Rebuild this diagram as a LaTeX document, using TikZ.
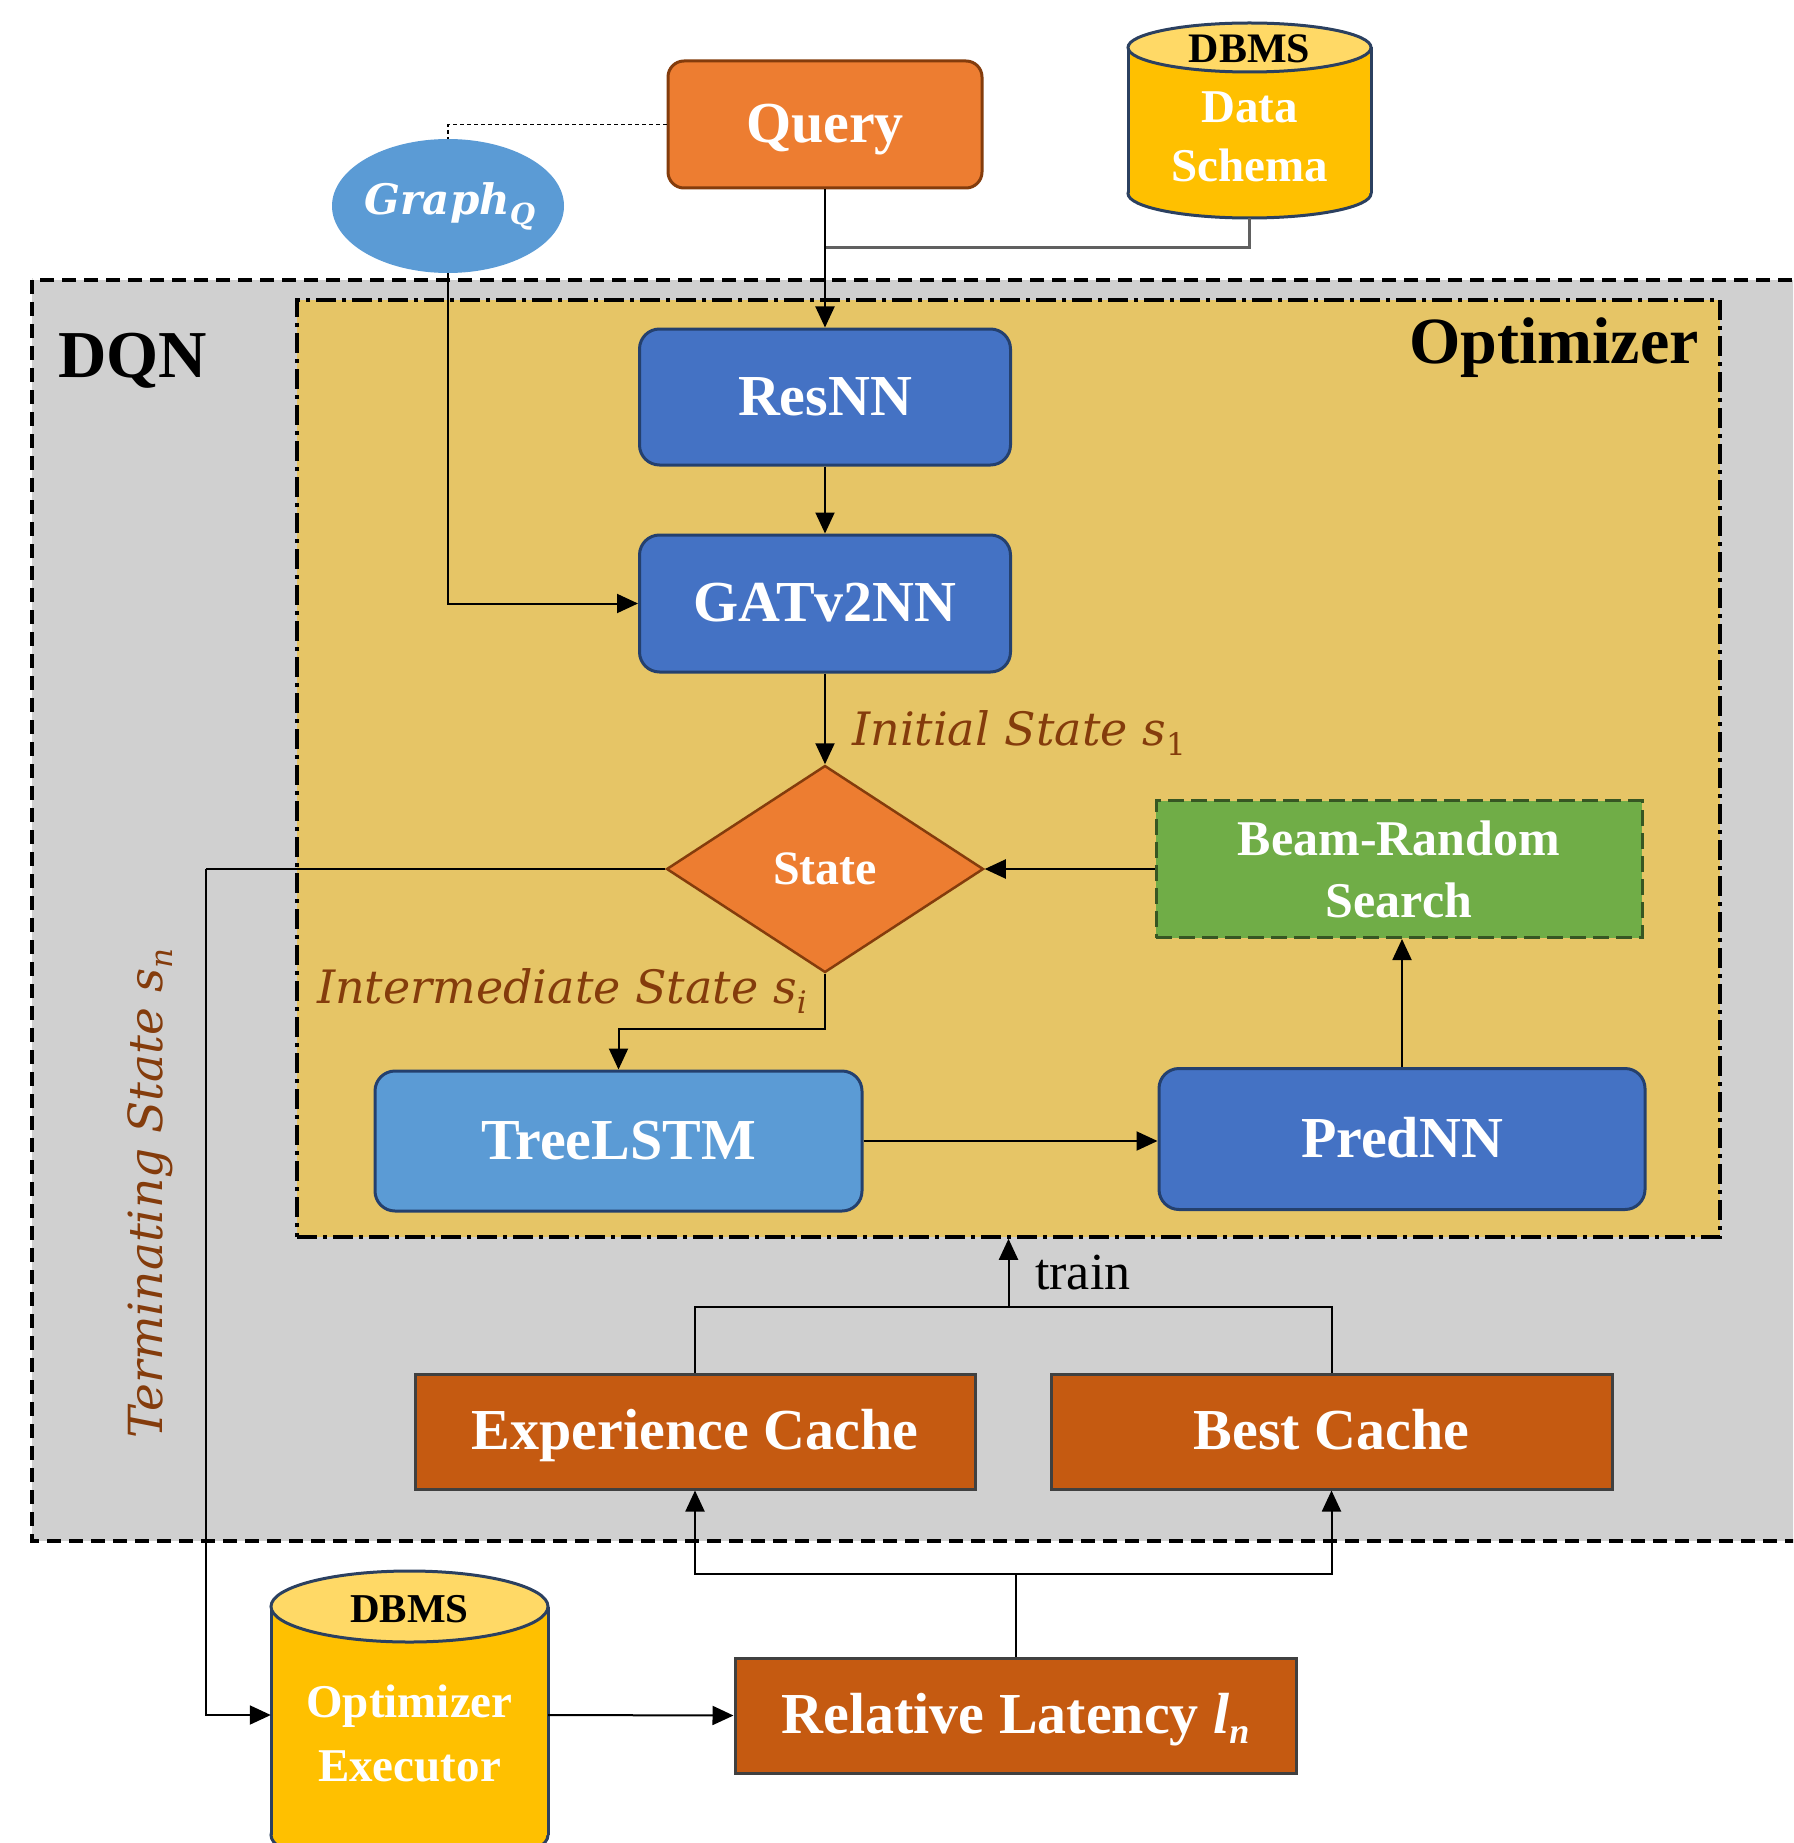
\documentclass[tikz,border=0pt]{standalone}
\usepackage{fontspec}
\setmainfont{Liberation Serif}
\newfontfamily\labfont{DejaVu Serif}
\usetikzlibrary{arrows.meta,shapes.geometric}
\definecolor{bggray}{HTML}{D0D0D0}
\definecolor{bgyellow}{HTML}{E6C566}
\definecolor{qorange}{HTML}{ED7D31}
\definecolor{qbrown}{HTML}{843C0C}
\definecolor{cylbody}{HTML}{FFC000}
\definecolor{cyltop}{HTML}{FFD966}
\definecolor{cylborder}{HTML}{2B4060}
\definecolor{bluefill}{HTML}{4472C4}
\definecolor{blueborder}{HTML}{24406E}
\definecolor{lightblue}{HTML}{5B9BD5}
\definecolor{greenfill}{HTML}{70AD47}
\definecolor{greenborder}{HTML}{375623}
\definecolor{cachefill}{HTML}{C55A11}
\definecolor{cacheborder}{HTML}{404040}
\definecolor{labbrown}{HTML}{843C0C}
\definecolor{linegray}{HTML}{606060}
\newcommand{\bigbf}{\bfseries\fontsize{58}{60}\selectfont}
\newcommand{\lab}{\labfont\itshape\fontsize{46}{48}\selectfont}
\newcommand{\labsub}[1]{\raisebox{-10pt}{\fontsize{31}{31}\selectfont #1}}
\tikzset{
  conn/.style={line width=2pt, draw=black},
  arr/.style={conn, -{Triangle[length=21pt,width=19pt]}},
  bluebox/.style={draw=blueborder, fill=bluefill, line width=3pt, rounded corners=20pt,
    text=white, font=\bigbf, inner sep=0pt, text height=36pt, text depth=0pt},
  cachebox/.style={draw=cacheborder, fill=cachefill, line width=3pt,
    text=white, font=\bigbf, inner sep=0pt, minimum height=115pt, text height=36pt, text depth=0pt},
  labtext/.style={text=labbrown, font=\lab, inner sep=0pt},
  cylline/.style={draw=cylborder, line width=3pt},
}
\begin{document}
\begin{tikzpicture}[x=1pt,y=-1pt]
\path[use as bounding box] (0,0) rectangle (1793,1843);
\clip (0,0) rectangle (1793,1843);
\fill[white] (0,0) rectangle (1793,1843);

% DQN region
\draw[fill=bggray, line width=3.5pt, dash pattern=on 14pt off 8pt] (32,280) rectangle (1840,1541);
\node[anchor=base west, font=\bfseries\fontsize{67}{69}\selectfont, inner sep=0pt] (dqnlab) at (58,377) {DQN};

% Optimizer region
\node[draw, fill=bgyellow, line width=3.5pt, dash pattern=on 20pt off 6pt on 4pt off 6pt,
  minimum width=1423pt, minimum height=937pt, inner sep=0pt] (opt) at (1008.5,768.5) {};
\node[anchor=base east, font=\bfseries\fontsize{66}{68}\selectfont, inner sep=0pt] (optlab) at (1699,363) {Optimizer};

% Query
\node[draw=qbrown, fill=qorange, line width=3pt, rounded corners=16pt, text=white, font=\bigbf,
  text height=36pt, text depth=0pt,
  minimum width=314pt, minimum height=127pt, inner sep=0pt] (query) at (825,124.5) {Query};

% Graph_Q
\node[ellipse, fill=lightblue, minimum width=232pt, minimum height=134pt, inner sep=0pt] (graphq) at (448,206) {};
\node[inner sep=0pt, text=white, font=\labfont\bfseries\itshape\fontsize{42}{44}\selectfont] (graphqlab) at (450,206)
  {Graph\raisebox{-10pt}{\fontsize{29}{29}\selectfont Q}};

% DBMS Data Schema cylinder
\filldraw[cylline, fill=cylbody] (1249.5,193.5) ellipse[x radius=121.5, y radius=24.5];
\fill[cylbody] (1128,47.5) rectangle (1371,193.5);
\draw[cylline] (1128,47.5) -- (1128,193.5);
\draw[cylline] (1371,47.5) -- (1371,193.5);
\filldraw[cylline, fill=cyltop] (1249.5,47.5) ellipse[x radius=121.5, y radius=24.5];
\node[inner sep=0pt, minimum width=243pt, minimum height=195pt] (schema) at (1249.5,120.5) {};
\node[font=\bfseries\fontsize{42}{44}\selectfont] (schemadb) at (1249.5,49) {DBMS};
\node[font=\bfseries\fontsize{47}{49}\selectfont, text=white] (schemad) at (1249.5,107) {Data};
\node[font=\bfseries\fontsize{47}{49}\selectfont, text=white] (schemas) at (1249.5,165) {Schema};

% main nodes
\node[bluebox, minimum width=371pt, minimum height=136pt] (resnn) at (825,397) {ResNN};
\node[bluebox, minimum width=371pt, minimum height=137pt] (gat) at (825,603.5) {GATv2NN};
\node[diamond, draw=qbrown, fill=qorange, line width=2.5pt, minimum width=317pt, minimum height=207pt,
  inner sep=0pt, text=white, text height=30pt, text depth=0pt,
  font=\bfseries\fontsize{48}{50}\selectfont] (state) at (825,869) {State};
\node[draw=greenborder, fill=greenfill, line width=3pt, dash pattern=on 16pt off 7pt,
  minimum width=486pt, minimum height=137pt, inner sep=0pt, text=white, align=center,
  font=\bfseries\fontsize{50}{62}\selectfont] (beam) at (1399,869) {Beam-Random\\Search};
\node[bluebox, fill=lightblue, minimum width=487pt, minimum height=140pt] (tree) at (618.5,1141) {TreeLSTM};
\node[bluebox, minimum width=486pt, minimum height=141pt] (pred) at (1402,1139) {PredNN};
\node[cachebox, minimum width=560pt] (expc) at (695,1431.5) {Experience Cache};
\node[cachebox, minimum width=561pt] (bestc) at (1331.5,1431.5) {Best Cache};
\node[cachebox, minimum width=561pt] (rellat) at (1015.5,1715.5)
  {Relative Latency \textit{l}\raisebox{-10pt}{\fontsize{36}{36}\selectfont\itshape n}};

% DBMS Optimizer Executor cylinder
\filldraw[cylline, fill=cylbody] (409.5,1835) ellipse[x radius=138.5, y radius=35.5];
\fill[cylbody] (271,1606.5) rectangle (548,1835);
\draw[cylline] (271,1606.5) -- (271,1835);
\draw[cylline] (548,1606.5) -- (548,1835);
\filldraw[cylline, fill=cyltop] (409.5,1606.5) ellipse[x radius=138.5, y radius=35.5];
\node[inner sep=0pt, minimum width=277pt, minimum height=200pt] (exec) at (409.5,1715) {};
\node[font=\bfseries\fontsize{41}{43}\selectfont] (execdb) at (409.5,1609) {DBMS};
\node[font=\bfseries\fontsize{47}{49}\selectfont, text=white] (execo) at (409.5,1706) {Optimizer};
\node[font=\bfseries\fontsize{47}{49}\selectfont, text=white] (exece) at (409.5,1766) {Executor};

% labels
\node[labtext, anchor=base west] (initlab) at (852,745) {Initial State s\labsub{\upshape 1}};
\node[labtext, anchor=base west] (interlab) at (317,1003) {Intermediate State s\labsub{\textit{i}}};
\node[labtext, anchor=base west, rotate=90, font=\labfont\itshape\fontsize{47}{49}\selectfont]
  (termlab) at (162,1439) {Terminating State s\labsub{\textit{n}}};
\node[anchor=base west, font=\fontsize{52}{54}\selectfont, inner sep=0pt] (trainlab) at (1035,1289) {train};

% connectors
\coordinate (gcorner) at (448,603.5);
\coordinate (qcorner) at (448,124.5);
\coordinate (smid) at (825,248);
\coordinate (tcorner) at (206,869);
\coordinate (trmid) at (1008.5,1307);
\coordinate (lbmid) at (1015.5,1574);

\draw[line width=1.5pt, dash pattern=on 4pt off 3pt] (query.west) -- (qcorner) -- (graphq.north);
\draw[line width=3pt, draw=linegray] (schema.south) |- (smid);
\draw[arr] (query.south) -- (resnn.north);
\draw[arr] (graphq.south) -- (gcorner) -- (gat.west);
\draw[arr] (resnn.south) -- (gat.north);
\draw[arr] (gat.south) -- (state.north);
\draw[arr] (beam.west) -- (state.east);
\draw[arr] (state.south) -- ++(0,55) -| (tree.north);
\draw[arr] (tree.east) -- (pred.west |- tree.east);
\draw[arr] (pred.north) -- (pred.north |- beam.south);
\draw[conn] (state.west) -- (tcorner);
\draw[arr] (tcorner) |- (exec.west);
\draw[arr] (exec.east) -- (rellat.west);
\draw[conn] (expc.north) |- (trmid) -| (bestc.north);
\draw[arr] (trmid) -- (opt.south);
\draw[conn] (rellat.north) -- (lbmid);
\draw[arr] (lbmid) -| (expc.south);
\draw[arr] (lbmid) -| (bestc.south);
\end{tikzpicture}
\end{document}
